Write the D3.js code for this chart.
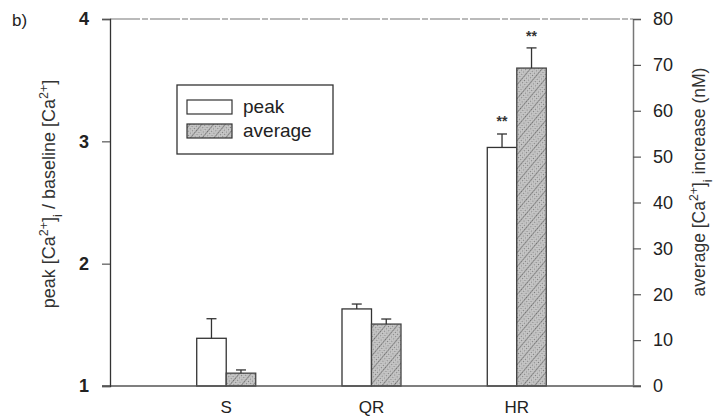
<!DOCTYPE html>
<html>
<head>
<meta charset="utf-8">
<script src="https://cdn.jsdelivr.net/npm/d3@7"></script>
<style>
  html, body { margin: 0; padding: 0; background: #fff; }
  svg { display: block; font-family: "Liberation Sans", Arial, sans-serif; }
</style>
</head>
<body>
<svg id="chart" width="715" height="417"></svg>
<script>
// Calcium response by stimulus type
const categories = ["S", "QR", "HR"];
const peakRatio = [1.39, 1.63, 2.95];          // peak / baseline (left axis)
const peakErr = [0.16, 0.04, 0.11];
const averageIncrease = [2.8, 13.5, 69.3];     // nM (right axis)
const averageErr = [0.7, 1.1, 4.4];
const peakMarks = ["", "", "**"];
const averageMarks = ["", "", "**"];
const leftTicks = [1, 2, 3, 4];
const rightTicks = [0, 10, 20, 30, 40, 50, 60, 70, 80];

const svg = d3.select("#chart");
const frame = { left: 110, right: 633, top: 19, bottom: 386 };
const barW = 29.5;

const x = d3.scalePoint().domain(categories).range([frame.left, frame.right]).padding(0.8);
const yL = d3.scaleLinear().domain([1, 4]).range([frame.bottom, frame.top]);
const yR = d3.scaleLinear().domain([0, 80]).range([frame.bottom, frame.top]);

// stipple + diagonal hatch for the average bars
const defs = svg.append("defs");
const dots = defs.append("pattern").attr("id", "stipple")
  .attr("patternUnits", "userSpaceOnUse").attr("width", 3).attr("height", 3);
dots.append("rect").attr("width", 3).attr("height", 3).attr("fill", "#cacaca");
dots.append("rect").attr("x", 0).attr("y", 0).attr("width", 1).attr("height", 1).attr("fill", "#7a7a7a");
dots.append("rect").attr("x", 1.5).attr("y", 1.5).attr("width", 1).attr("height", 1).attr("fill", "#9a9a9a");
const hatch = defs.append("pattern").attr("id", "hatch")
  .attr("patternUnits", "userSpaceOnUse").attr("width", 9).attr("height", 9)
  .attr("patternTransform", "rotate(40)");
hatch.append("rect").attr("width", 9).attr("height", 9).attr("fill", "url(#stipple)");
hatch.append("line").attr("x1", 0).attr("y1", 0).attr("x2", 0).attr("y2", 9)
  .attr("stroke", "#5e5e5e").attr("stroke-width", 1);

// frame: top border
svg.append("line").attr("x1", frame.left).attr("x2", frame.right)
  .attr("y1", frame.top).attr("y2", frame.top)
  .attr("stroke", "#777").attr("stroke-width", 1.2).attr("stroke-dasharray", "30 2 6 2");

// bars
const g = svg.append("g");
categories.forEach((c, i) => {
  const cx = x(c);
  // peak bar
  g.append("rect").attr("x", cx - barW).attr("y", yL(peakRatio[i]))
    .attr("width", barW).attr("height", yL(1) - yL(peakRatio[i]))
    .attr("fill", "#fff").attr("stroke", "#333").attr("stroke-width", 1.3);
  const pe = yL(peakRatio[i] + peakErr[i]);
  g.append("line").attr("x1", cx - barW / 2).attr("x2", cx - barW / 2)
    .attr("y1", yL(peakRatio[i])).attr("y2", pe).attr("stroke", "#333").attr("stroke-width", 1.3);
  g.append("line").attr("x1", cx - barW / 2 - 5).attr("x2", cx - barW / 2 + 5)
    .attr("y1", pe).attr("y2", pe).attr("stroke", "#333").attr("stroke-width", 1.3);
  if (peakMarks[i]) {
    g.append("text").attr("x", cx - barW / 2).attr("y", pe - 8)
      .attr("text-anchor", "middle").attr("font-size", 14).attr("font-weight", "bold")
      .attr("fill", "#333").text(peakMarks[i]);
  }
  // average bar
  g.append("rect").attr("x", cx).attr("y", yR(averageIncrease[i]))
    .attr("width", barW).attr("height", yR(0) - yR(averageIncrease[i]))
    .attr("fill", "url(#hatch)").attr("stroke", "#444").attr("stroke-width", 1.3);
  const ae = yR(averageIncrease[i] + averageErr[i]);
  g.append("line").attr("x1", cx + barW / 2).attr("x2", cx + barW / 2)
    .attr("y1", yR(averageIncrease[i])).attr("y2", ae).attr("stroke", "#333").attr("stroke-width", 1.3);
  g.append("line").attr("x1", cx + barW / 2 - 5).attr("x2", cx + barW / 2 + 5)
    .attr("y1", ae).attr("y2", ae).attr("stroke", "#333").attr("stroke-width", 1.3);
  if (averageMarks[i]) {
    g.append("text").attr("x", cx + barW / 2).attr("y", ae - 7)
      .attr("text-anchor", "middle").attr("font-size", 14).attr("font-weight", "bold")
      .attr("fill", "#333").text(averageMarks[i]);
  }
});

// baseline
svg.append("line").attr("x1", frame.left - 8).attr("x2", frame.right + 8)
  .attr("y1", frame.bottom).attr("y2", frame.bottom)
  .attr("stroke", "#555").attr("stroke-width", 1.3);

// left axis
const axL = svg.append("g").attr("transform", `translate(${frame.left},0)`)
  .call(d3.axisLeft(yL).tickValues(leftTicks).tickFormat(d3.format("d")).tickSizeOuter(0).tickSize(8).tickPadding(13));
axL.select(".domain").attr("stroke", "#333").attr("stroke-width", 1.3);
axL.selectAll(".tick line").attr("stroke", "#555").attr("stroke-width", 1.2);
axL.selectAll(".tick text").attr("font-size", 18).attr("font-weight", "bold")
  .attr("fill", "#222").attr("font-family", "Liberation Sans, Arial, sans-serif");

// right axis
const axR = svg.append("g").attr("transform", `translate(${frame.right},0)`)
  .call(d3.axisRight(yR).tickValues(rightTicks).tickSizeOuter(0).tickSize(8).tickPadding(12));
axR.select(".domain").attr("stroke", "#777").attr("stroke-width", 1.5);
axR.selectAll(".tick line").attr("stroke", "#555").attr("stroke-width", 1.2);
axR.selectAll(".tick text").attr("font-size", 18)
  .attr("fill", "#222").attr("font-family", "Liberation Sans, Arial, sans-serif");

// category labels
svg.append("g").selectAll("text").data(categories).join("text")
  .attr("x", d => x(d)).attr("y", 413)
  .attr("text-anchor", "middle").attr("font-size", 17).attr("fill", "#222")
  .text(d => d);

// panel letter
svg.append("text").attr("x", 12).attr("y", 26).attr("font-size", 17)
  .attr("fill", "#222").text("b)");

// axis titles with superscripts/subscripts
function calcium(t, sub) {
  t.append("tspan").text("[Ca");
  t.append("tspan").attr("baseline-shift", "super").attr("font-size", "70%").text("2+");
  t.append("tspan").text("]");
  if (sub) t.append("tspan").attr("baseline-shift", "sub").attr("font-size", "70%").text("i");
}
const tl = svg.append("text").attr("transform", "translate(55,194) rotate(-90)")
  .attr("text-anchor", "middle").attr("font-size", 18).attr("fill", "#333");
tl.append("tspan").text("peak ");
calcium(tl, true);
tl.append("tspan").text(" / baseline ");
calcium(tl, false);

const tr = svg.append("text").attr("transform", "translate(705,182) rotate(-90)")
  .attr("text-anchor", "middle").attr("font-size", 17.5).attr("fill", "#333");
tr.append("tspan").text("average ");
calcium(tr, true);
tr.append("tspan").text(" increase (nM)");

// legend
const lg = svg.append("g");
lg.append("rect").attr("x", 177).attr("y", 85).attr("width", 156).attr("height", 69)
  .attr("fill", "#fff").attr("stroke", "#333").attr("stroke-width", 1.3);
const legendItems = [
  { label: "peak", fill: "#fff", y: 100 },
  { label: "average", fill: "url(#hatch)", y: 124 }
];
legendItems.forEach(it => {
  lg.append("rect").attr("x", 187).attr("y", it.y).attr("width", 45).attr("height", 14)
    .attr("fill", it.fill).attr("stroke", "#333").attr("stroke-width", 1.2);
  lg.append("text").attr("x", 243).attr("y", it.y + 13).attr("font-size", 19)
    .attr("fill", "#222").text(it.label);
});
</script>
</body>
</html>
